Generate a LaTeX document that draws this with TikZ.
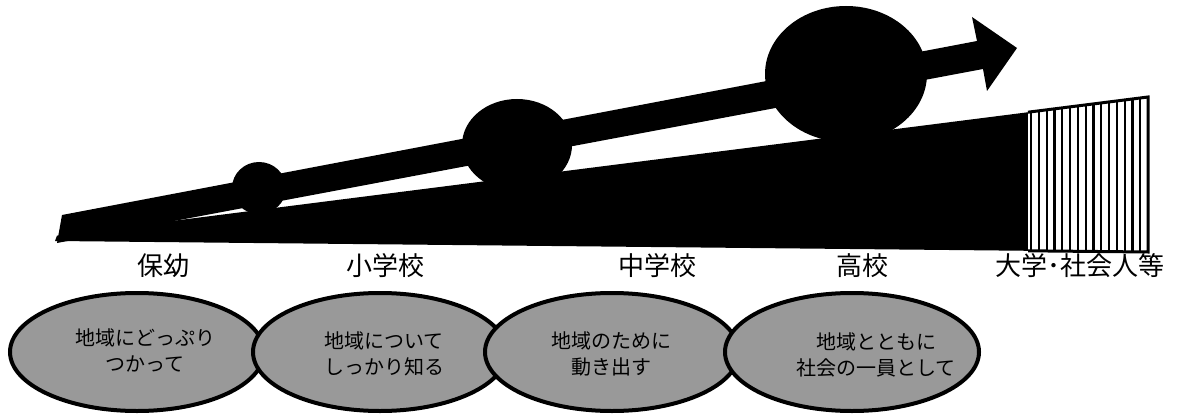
\documentclass[tikz,border=0pt]{standalone}
\usepackage{fontspec}
\newfontfamily\jp{Noto Sans CJK JP}
\usetikzlibrary{shapes.geometric}
\tikzset{
  lab/.style={font=\jp\fontsize{26}{30}\selectfont, inner sep=0pt},
  leaf/.style={ellipse, draw=black, line width=4pt, fill=black!40, minimum width=254pt, minimum height=118pt, inner sep=0pt},
  leaftext/.style={font=\jp\fontsize{20}{26}\selectfont, align=center, inner sep=0pt},
  ball/.style={fill=black},
}
\begin{document}
\begin{tikzpicture}[x=1pt,y=-1pt]
\useasboundingbox (0,0) rectangle (1198,414);
% wedge
\fill (57,235.6) -- (1148,97) -- (1148,252) -- (55,241) -- cycle;
% striped end of the wedge
\fill[white] (1028,112.2) -- (1148,97) -- (1148,252) -- (1028,250.8) -- cycle;
\begin{scope}
  \clip (1028,112.2) -- (1148,97) -- (1148,252) -- (1028,250.8) -- cycle;
  \foreach \x in {1031,1038.8,...,1146} \draw[line width=2.2pt] (\x,90) -- (\x,260);
\end{scope}
\draw[line width=3pt, line join=miter] (1028,112.2) -- (1148,97) -- (1148,252) -- (1028,250.8);
% rising arrow
\fill (62,215) -- (977,41) -- (972,17) -- (1017,48) -- (987,91) -- (983,69) -- (57,243) -- cycle;
% balls
\fill[ball] (259,188) ellipse [x radius=27pt, y radius=26pt];
\fill[ball] (517,145) ellipse [x radius=55pt, y radius=46pt];
\fill[ball] (846,74) ellipse [x radius=81pt, y radius=68pt];
% stage labels
\node[lab] (l1) at (163,266) {保幼};
\node[lab] (l2) at (385,266) {小学校};
\node[lab] (l3) at (657,266) {中学校};
\node[lab] (l4) at (862,266) {高校};
\node[lab] (l5) at (1080,266) {大学･社会人等};
% leaves
\node[leaf] (e1) at (137,352) {};
\node[leaf] (e2) at (380,352) {};
\node[leaf] (e3) at (612,352) {};
\node[leaf] (e4) at (852,352) {};
\node[leaftext] (t1) at (145,350) {地域にどっぷり\\つかって};
\node[leaftext] (t2) at (384,354) {地域について\\しっかり知る};
\node[leaftext] (t3) at (611,353.5) {地域のために\\動き出す};
\node[leaftext] (t4) at (876,355) {地域とともに\\社会の一員として};
\end{tikzpicture}
\end{document}
